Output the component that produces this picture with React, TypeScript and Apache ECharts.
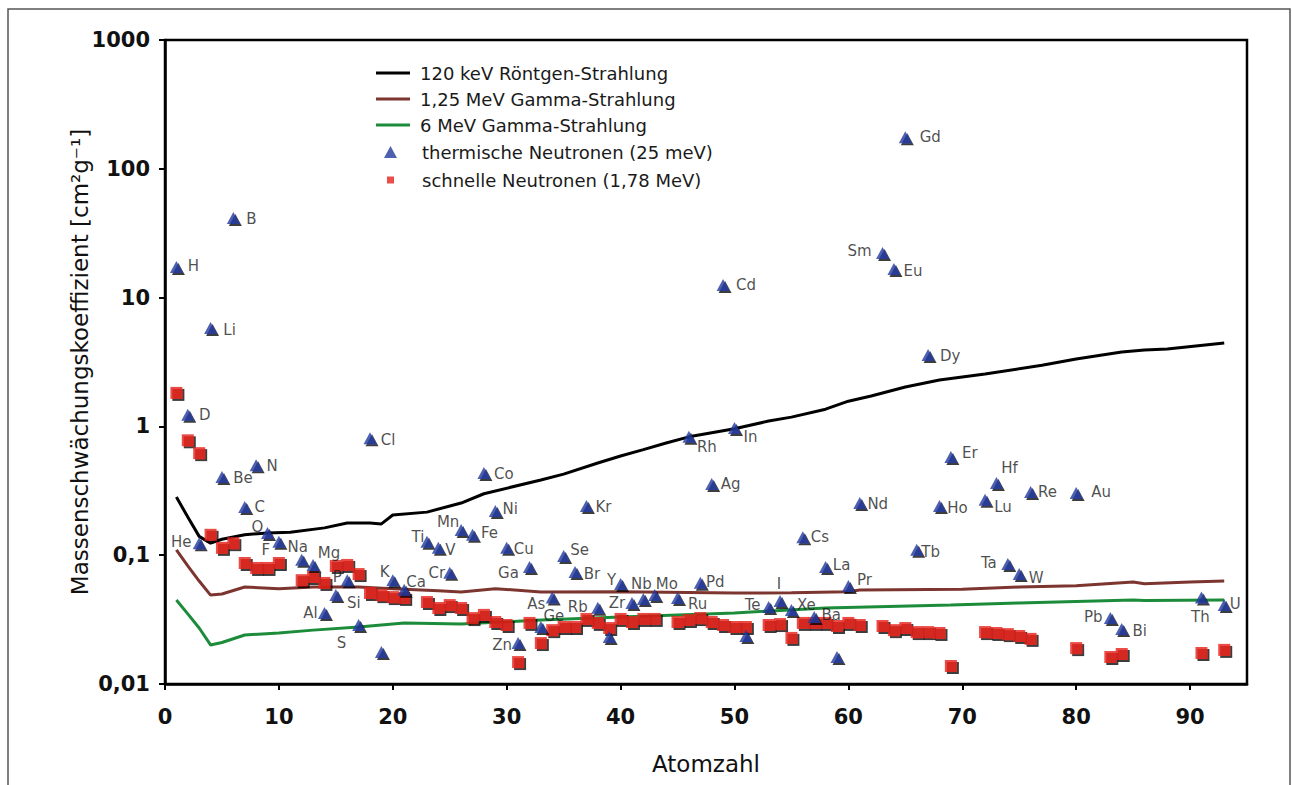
import React, { useEffect, useRef } from "react";
import * as echarts from "echarts";

// ---------- data ----------
const seriesNames = [
  "120 keV Röntgen-Strahlung",
  "1,25 MeV Gamma-Strahlung",
  "6 MeV Gamma-Strahlung",
  "thermische Neutronen (25 meV)",
  "schnelle Neutronen (1,78 MeV)",
];

const thermalNames = [
  "H", "D", "He", "Li", "Be", "B", "C", "N", "O", "F", "Na", "Mg", "Al", "Si", "P", "S", "Cl", "Ar", "K", "Ca",
  "Ti", "V", "Cr", "Mn", "Fe", "Co", "Ni", "Cu", "Zn", "Ga", "Ge", "As", "Se", "Br", "Kr", "Rb", "Sr", "Y", "Zr", "Nb",
  "Mo", "Ru", "Rh", "Pd", "Ag", "Cd", "In", "Sn", "Te", "I", "Xe", "Cs", "Ba", "La", "Ce", "Pr", "Nd", "Sm", "Eu", "Gd",
  "Tb", "Dy", "Ho", "Er", "Lu", "Hf", "Ta", "W", "Re", "Au", "Pb", "Bi", "Th", "U",
];
const thermalPos = [
  1, 2, 3, 4, 5, 6, 7, 8, 9, 10, 12, 13, 14, 15, 16, 17, 18, 19, 20, 21,
  23, 24, 25, 26, 27, 28, 29, 30, 31, 32, 33, 34, 35, 36, 37, 38, 39, 40, 41, 42,
  43, 45, 46, 47, 48, 49, 50, 51, 53, 54, 55, 56, 57, 58, 59, 60, 61, 63, 64, 65,
  66, 67, 68, 69, 72, 73, 74, 75, 76, 80, 83, 84, 91, 93,
];
const thermalValues = [
  17.3, 1.23, 0.124, 5.8, 0.405, 41.5, 0.237, 0.5, 0.149, 0.127, 0.092, 0.084, 0.0356, 0.049, 0.064, 0.0287, 0.81, 0.0177, 0.064, 0.054,
  0.127, 0.114, 0.073, 0.157, 0.144, 0.435, 0.22, 0.114, 0.0208, 0.081, 0.0277, 0.047, 0.0987, 0.074, 0.241, 0.039, 0.0232, 0.0597, 0.0426, 0.0457,
  0.049, 0.0466, 0.83, 0.061, 0.357, 12.5, 0.97, 0.0236, 0.0396, 0.044, 0.0376, 0.138, 0.0331, 0.081, 0.0162, 0.0577, 0.254, 22.2, 16.7, 176,
  0.11, 3.58, 0.241, 0.578, 0.269, 0.364, 0.0855, 0.0714, 0.31, 0.304, 0.0325, 0.0267, 0.047, 0.041,
];

const fastPos = [
  1, 2, 3, 4, 5, 6, 7, 8, 9, 10, 12, 13, 14, 15, 16, 17, 18, 19, 20, 21,
  23, 24, 25, 26, 27, 28, 29, 30, 31, 32, 33, 34, 35, 36, 37, 38, 39, 40, 41, 42,
  43, 45, 46, 47, 48, 49, 50, 51, 53, 54, 55, 56, 57, 58, 59, 60, 61, 63, 64, 65,
  66, 67, 68, 69, 72, 73, 74, 75, 76, 80, 83, 84, 91, 93,
];
const fastValues = [
  1.82, 0.78, 0.62, 0.144, 0.114, 0.124, 0.087, 0.0796, 0.0796, 0.087, 0.064, 0.0677, 0.0609, 0.0825, 0.084, 0.0714, 0.0509, 0.049, 0.0473, 0.0466,
  0.0433, 0.0389, 0.041, 0.0389, 0.0325, 0.0344, 0.0303, 0.0287, 0.0148, 0.0298, 0.0208, 0.0262, 0.0277, 0.0277, 0.032, 0.0298, 0.0272, 0.032, 0.0303, 0.032,
  0.032, 0.0303, 0.0314, 0.0325, 0.0303, 0.0287, 0.0277, 0.0277, 0.0287, 0.0292, 0.0228, 0.0298, 0.0298, 0.0298, 0.0282, 0.0298, 0.0287, 0.0282, 0.0262, 0.0272,
  0.0253, 0.0253, 0.0249, 0.0138, 0.0253, 0.0249, 0.0244, 0.0236, 0.0224, 0.019, 0.0162, 0.0171, 0.0174, 0.0184,
];

const xrayLine = [
  [1, 0.283], [2, 0.198], [3, 0.14], [4, 0.124], [5, 0.133], [7, 0.144], [9, 0.149], [11, 0.151], [14, 0.163], [16, 0.178],
  [18, 0.178], [19, 0.175], [20, 0.205], [23, 0.216], [26, 0.254], [28, 0.3], [33, 0.384], [35, 0.426], [38, 0.52], [40, 0.589],
  [42, 0.66], [44, 0.743], [46, 0.83], [50, 0.96], [53, 1.1], [55, 1.18], [58, 1.36], [60, 1.57], [62, 1.72], [65, 2.02],
  [68, 2.29], [72, 2.55], [77, 2.98], [80, 3.34], [84, 3.78], [86, 3.92], [88, 3.99], [93, 4.44],
];
const gamma125Line = [
  [1, 0.11], [2, 0.0825], [3, 0.063], [4, 0.049], [5, 0.05], [7, 0.0566], [10, 0.055], [13, 0.0566], [17, 0.0566], [20, 0.055],
  [24, 0.053], [26, 0.0518], [29, 0.055], [33, 0.0518], [40, 0.052], [50, 0.0509], [55, 0.051], [60, 0.052], [61, 0.0537], [70, 0.0545],
  [75, 0.0566], [80, 0.058], [85, 0.0619], [86, 0.06], [90, 0.062], [93, 0.063],
];
const gamma6Line = [
  [1, 0.0449], [2, 0.035], [3, 0.0272], [4, 0.0201], [5, 0.021], [7, 0.024], [10, 0.0249], [13, 0.0262], [17, 0.0277], [21, 0.0298],
  [26, 0.0292], [33, 0.0314], [40, 0.0331], [50, 0.0356], [58, 0.0389], [69, 0.041], [75, 0.0426], [85, 0.0449], [86, 0.0445], [93, 0.0449],
];

const xTicks = [0, 10, 20, 30, 40, 50, 60, 70, 80, 90];
const yTickLabels = ["0,01", "0,1", "1", "10", "100", "1000"];

// ---------- styles ----------
const FONT = "DejaVu Sans";
const colors = ["#000000", "#7d3530", "#1d8c3a", "#22399b", "#e5221c"];
const hiddenLabels = ["Ar", "Sr", "Sn", "Ce"];
const labelOffsets: Record<string, number[]> = {
  H: [17, -1], D: [17, 0], He: [-18, -1], Li: [19, 2], Be: [21, 1], B: [18, 1], C: [15, 0], N: [16, 1],
  O: [-10, -6], F: [-13, 8], Na: [-4, -13], Mg: [16, -12], Al: [-14, 0], Si: [18, 8], P: [-10, -3], S: [-17, 18],
  Cl: [18, 2], K: [-8, -8], Ca: [12, -8], Ti: [-9, -5], V: [12, 2], Cr: [-13, 0], Mn: [-13, -8], Fe: [17, -2],
  Co: [20, 1], Ni: [15, -2], Cu: [17, 1], Zn: [-16, 2], Ga: [-21, 6], Ge: [13, -11], As: [-16, 7], Se: [16, -6],
  Br: [17, 2], Kr: [17, 1], Rb: [-20, -1], Y: [-9, -4], Zr: [-15, 0], Nb: [-2, -15], Mo: [12, -11], Ru: [20, 6],
  Rh: [18, 10], Pd: [15, -1], Ag: [19, 0], Cd: [23, 0], In: [16, 9], Te: [-16, -2], I: [-1, -17], Xe: [15, -5],
  Cs: [17, 0], Ba: [17, -2], La: [16, -2], Pr: [16, -6], Nd: [18, 1], Sm: [-23, -2], Eu: [19, 2], Gd: [25, 0],
  Tb: [14, 2], Dy: [22, 1], Ho: [18, 2], Er: [19, -4], Lu: [18, 7], Hf: [13, -15], Ta: [-19, -1], W: [17, 4],
  Re: [17, 0], Au: [25, -1], Pb: [-17, -1], Bi: [18, 2], Th: [-1, 20], U: [11, -1],
};

export default function App() {
  const ref = useRef<HTMLDivElement>(null);

  useEffect(() => {
    if (!ref.current) return;
    const chart = echarts.init(ref.current, null, { renderer: "svg" });

    const thermalData = thermalNames.map((name, i) => ({
      name,
      value: [thermalPos[i], thermalValues[i]],
      label: { show: hiddenLabels.indexOf(name) < 0 },
    }));
    const fastData = fastPos.map((p, i) => [p, fastValues[i]]);

    const shadow = { shadowColor: "rgba(0,0,0,0.95)", shadowBlur: 0, shadowOffsetX: 2, shadowOffsetY: 2 };
    const legendText = { fontFamily: FONT, fontSize: 18, color: "#1a1a1a", lineHeight: 20 };

    chart.setOption({
      animation: false,
      backgroundColor: "#ffffff",
      graphic: [
        {
          type: "rect",
          silent: true,
          z: -10,
          shape: { x: 8, y: 9, width: 1282, height: 800 },
          style: { fill: "none", stroke: "#555555", lineWidth: 1.5 },
        },
      ],
      grid: {
        left: 165,
        top: 40,
        right: 45,
        bottom: 101,
        show: true,
        borderColor: "#000",
        borderWidth: 2.5,
        backgroundColor: "transparent",
      },
      legend: [
        {
          data: [
            { name: seriesNames[0], icon: "rect" },
            { name: seriesNames[1], icon: "rect" },
            { name: seriesNames[2], icon: "rect" },
          ],
          orient: "vertical",
          left: 376,
          top: 63,
          padding: 0,
          itemWidth: 34,
          itemHeight: 3,
          itemGap: 6,
          selectedMode: false,
          textStyle: { ...legendText, padding: [0, 0, 0, 5] },
        },
        {
          data: [{ name: seriesNames[3], icon: "triangle" }],
          orient: "vertical",
          left: 384,
          top: 142,
          padding: 0,
          itemWidth: 13,
          itemHeight: 12,
          selectedMode: false,
          textStyle: { ...legendText, padding: [0, 0, 0, 20] },
        },
        {
          data: [{ name: seriesNames[4], icon: "rect" }],
          orient: "vertical",
          left: 387,
          top: 170,
          padding: 0,
          itemWidth: 7,
          itemHeight: 7,
          selectedMode: false,
          textStyle: { ...legendText, padding: [0, 0, 0, 23] },
        },
      ],
      xAxis: {
        type: "value",
        min: 0,
        max: 95,
        interval: 10,
        name: "Atomzahl",
        nameLocation: "middle",
        nameGap: 68,
        nameMoveOverlap: false,
        nameTextStyle: { fontFamily: FONT, fontSize: 23, color: "#111" },
        axisLine: { show: true, lineStyle: { color: "#000", width: 2.5 } },
        axisTick: { show: true, inside: false, length: 6, customValues: xTicks, lineStyle: { color: "#000", width: 2 } },
        axisLabel: {
          customValues: xTicks,
          margin: 22,
          fontFamily: FONT,
          fontWeight: "bold",
          fontSize: 21,
          color: "#111",
          formatter: (v: number) => (xTicks.indexOf(v) >= 0 ? String(v) : ""),
        },
        splitLine: { show: false },
      },
      yAxis: {
        type: "log",
        logBase: 10,
        min: 0.01,
        max: 1000,
        name: "Massenschwächungskoeffizient [cm²g⁻¹]",
        nameLocation: "middle",
        nameGap: 74,
        nameMoveOverlap: false,
        nameTextStyle: { fontFamily: FONT, fontSize: 23, color: "#111" },
        axisLine: { show: true, lineStyle: { color: "#000", width: 2.5 } },
        axisTick: { show: true, inside: false, length: 6, lineStyle: { color: "#000", width: 2 } },
        axisLabel: {
          margin: 15,
          fontFamily: FONT,
          fontWeight: "bold",
          fontSize: 21,
          color: "#111",
          formatter: (v: number) => {
            const idx = Math.round(Math.log10(v)) + 2;
            return yTickLabels[idx] ?? "";
          },
        },
        splitLine: { show: false },
        minorTick: { show: false },
      },
      series: [
        {
          name: seriesNames[0],
          type: "line",
          data: xrayLine,
          showSymbol: false,
          symbol: "none",
          color: colors[0],
          lineStyle: { color: colors[0], width: 3 },
          z: 2,
        },
        {
          name: seriesNames[1],
          type: "line",
          data: gamma125Line,
          showSymbol: false,
          symbol: "none",
          color: colors[1],
          lineStyle: { color: colors[1], width: 3 },
          z: 2,
        },
        {
          name: seriesNames[2],
          type: "line",
          data: gamma6Line,
          showSymbol: false,
          symbol: "none",
          color: colors[2],
          lineStyle: { color: colors[2], width: 3 },
          z: 2,
        },
        {
          name: seriesNames[4],
          type: "scatter",
          data: fastData,
          symbol: "rect",
          symbolSize: 12,
          color: colors[4],
          itemStyle: { color: colors[4], ...shadow },
          z: 3,
        },
        {
          name: seriesNames[3],
          type: "scatter",
          data: thermalData,
          symbol: "triangle",
          symbolSize: [13, 12],
          color: colors[3],
          itemStyle: { color: colors[3], ...shadow },
          label: {
            show: true,
            position: "inside",
            formatter: "{b}",
            fontFamily: FONT,
            fontSize: 15,
            color: "#1e1e1e",
            align: "center",
            verticalAlign: "middle",
          },
          labelLayout: (params: any) => {
            const name = thermalNames[params.dataIndex];
            const off = labelOffsets[name] || [17, 0];
            return { dx: off[0], dy: off[1], hideOverlap: false };
          },
          z: 4,
        },
      ],
    });

    return () => chart.dispose();
  }, []);

  return (
    <div
      ref={ref}
      style={{ position: "absolute", left: 0, top: 0, width: 1292, height: 785, background: "#fff" }}
    />
  );
}
